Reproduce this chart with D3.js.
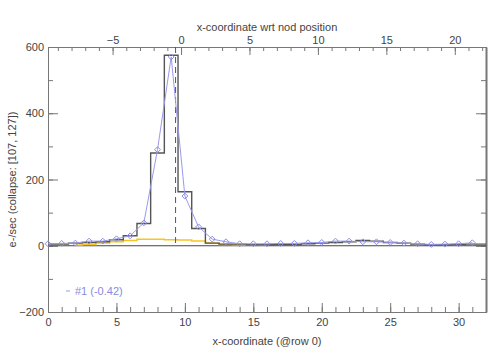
<!DOCTYPE html>
<html><head><meta charset="utf-8">
<script src="https://cdn.jsdelivr.net/npm/d3@7"></script>
<style>
body{margin:0;background:#fff;}
svg{display:block;}
.ax text{font-family:"Liberation Sans",Arial,sans-serif;font-size:11px;fill:#444;}
.ax path,.ax line{stroke:#777;}
</style></head>
<body>
<svg id="c" width="491" height="351"></svg>
<script>
// ---- data ----
const xPix = d3.range(0, 32); // pixel columns (bin centres)
const histValues = [5,5,8,10,12,18,30,67,280,575,163,52,8,5,5,3,3,4,4,6,8,10,12,16,14,10,8,5,3,3,4,5];
const fitValues  = [6,7,8,14,14,21,30,69,290,570,150,57,20,12,6,6,6,7,7,9,10,14,14,12,12,10,8,6,4,5,6,9];
const bgValues   = [null,null,2,4,8,12,16,20,20,18,17,14,8,4,3,3,2,null,null,null,null,null,null,null,null,null,null,null,null,null,null,null];
const nodOffset = 9.72;      // top axis zero in bottom-axis coordinates
const nodCentre = 9.32;      // dashed marker position
const xTicks = [0,5,10,15,20,25,30];
const topTicks = [-5,0,5,10,15,20];
const yTicks = [-200,0,200,400,600];
const legendLabel = "#1 (-0.42)";
const xTitle = "x-coordinate (@row 0)";
const topTitle = "x-coordinate wrt nod position";
const yTitle = "e-/sec (collapse: [107, 127])";

// ---- layout ----
const L = 48, R = 486, T = 47, B = 312;
const svg = d3.select("#c");
const x = d3.scaleLinear().domain([0, 32]).range([L, R]);
const xt = d3.scaleLinear().domain([-nodOffset, 32 - nodOffset]).range([L, R]);
const y = d3.scaleLinear().domain([-200, 600]).range([B, T]);

function style(g){ g.select(".domain").attr("stroke","#777"); g.selectAll("line").attr("stroke","#777"); }

// bottom axis
svg.append("g").attr("class","ax").attr("transform",`translate(0,${B})`)
  .call(d3.axisBottom(x).tickValues(d3.range(0,33)).tickSize(-5).tickFormat("")).call(style);
svg.append("g").attr("class","ax").attr("transform",`translate(0,${B})`)
  .call(d3.axisBottom(x).tickValues(xTicks).tickSizeInner(-9).tickSizeOuter(0).tickPadding(6).tickFormat(d3.format("d"))).call(style);
// top axis
svg.append("g").attr("class","ax").attr("transform",`translate(0,${T})`)
  .call(d3.axisTop(xt).tickValues(d3.range(-9,23)).tickSize(-4).tickFormat("")).call(style);
svg.append("g").attr("class","ax").attr("transform",`translate(0,${T})`)
  .call(d3.axisTop(xt).tickValues(topTicks).tickSizeInner(-8).tickSizeOuter(0).tickPadding(3).tickFormat(d3.format("d"))).call(style);
// left axis
svg.append("g").attr("class","ax").attr("transform",`translate(${L},0)`)
  .call(d3.axisLeft(y).tickValues(d3.range(-200,601,100)).tickSize(-5).tickFormat("")).call(style);
svg.append("g").attr("class","ax").attr("transform",`translate(${L},0)`)
  .call(d3.axisLeft(y).tickValues(yTicks).tickSizeInner(-10).tickSizeOuter(0).tickPadding(4).tickFormat(d3.format("d"))).call(style);
// right axis
svg.append("g").attr("class","ax").attr("transform",`translate(${R},0)`)
  .call(d3.axisRight(y).tickValues(d3.range(-200,601,100)).tickSize(-5).tickFormat("")).call(style);
svg.append("g").attr("class","ax").attr("transform",`translate(${R},0)`)
  .call(d3.axisRight(y).tickValues(yTicks).tickSizeInner(-10).tickSizeOuter(0).tickFormat("")).call(style)
  .select(".domain").attr("stroke-width",2);

svg.selectAll(".ax text").attr("fill","#444");

// titles
const tf = "Liberation Sans, Arial, sans-serif";
svg.append("text").attr("x",(L+R)/2).attr("y",345).attr("text-anchor","middle")
  .attr("font-family",tf).attr("font-size",11).attr("fill","#444").text(xTitle);
svg.append("text").attr("x",(L+R)/2).attr("y",31).attr("text-anchor","middle")
  .attr("font-family",tf).attr("font-size",11).attr("fill","#444").text(topTitle);
svg.append("text").attr("transform",`translate(16,${(T+B)/2}) rotate(-90)`).attr("text-anchor","middle")
  .attr("font-family",tf).attr("font-size",11).attr("fill","#444").text(yTitle);

// zero line
svg.append("line").attr("x1",L).attr("x2",R).attr("y1",y(0)).attr("y2",y(0)).attr("stroke","#444").attr("stroke-width",1);

// background (orange) step
const bgLine = d3.line().defined(d=>d[1]!==null).x(d=>x(d[0])).y(d=>y(d[1])).curve(d3.curveStep);
svg.append("path").datum(xPix.map((v,i)=>[v,bgValues[i]]))
  .attr("d",bgLine).attr("fill","none").attr("stroke","#f7c520").attr("stroke-width",1.5);

// histogram step
const hist = xPix.map((v,i)=>[v,histValues[i]]);
const histPts = [[ -0.5, histValues[0] ], ...hist, [31.5, histValues[31]]];
const stepLine = d3.line().x(d=>x(Math.max(0,Math.min(32,d[0])))).y(d=>y(d[1])).curve(d3.curveStep);
svg.append("path").datum(hist)
  .attr("d",d3.line().x(d=>x(d[0])).y(d=>y(d[1])).curve(d3.curveStep)(
     [[0,histValues[0]], ...hist.slice(0), [32,histValues[31]]].map((d,i,a)=>d)))
  .attr("fill","none").attr("stroke","#555").attr("stroke-width",1.4);

// dashed nod marker
svg.append("line").attr("x1",x(nodCentre)).attr("x2",x(nodCentre)).attr("y1",y(600)).attr("y2",y(0))
  .attr("stroke","#4a4ab0").attr("stroke-width",1).attr("stroke-dasharray","6,4");

// fit line with diamonds
const fit = xPix.map((v,i)=>[v,fitValues[i]]);
svg.append("path").datum(fit).attr("d",d3.line().x(d=>x(d[0])).y(d=>y(d[1])))
  .attr("fill","none").attr("stroke","#9a9aec").attr("stroke-width",1);
svg.append("g").selectAll("path").data(fit).join("path")
  .attr("d",d3.symbol(d3.symbolDiamond2,22))
  .attr("transform",d=>`translate(${x(d[0])},${y(d[1])})`)
  .attr("fill","none").attr("stroke","#8c8ce6").attr("stroke-width",1);

// legend
svg.append("line").attr("x1",66).attr("x2",70).attr("y1",291).attr("y2",291).attr("stroke","#9a9aec");
svg.append("text").attr("x",75).attr("y",295).attr("font-family",tf).attr("font-size",11)
  .attr("fill","#8a8ae0").text(legendLabel);
</script>
</body></html>
